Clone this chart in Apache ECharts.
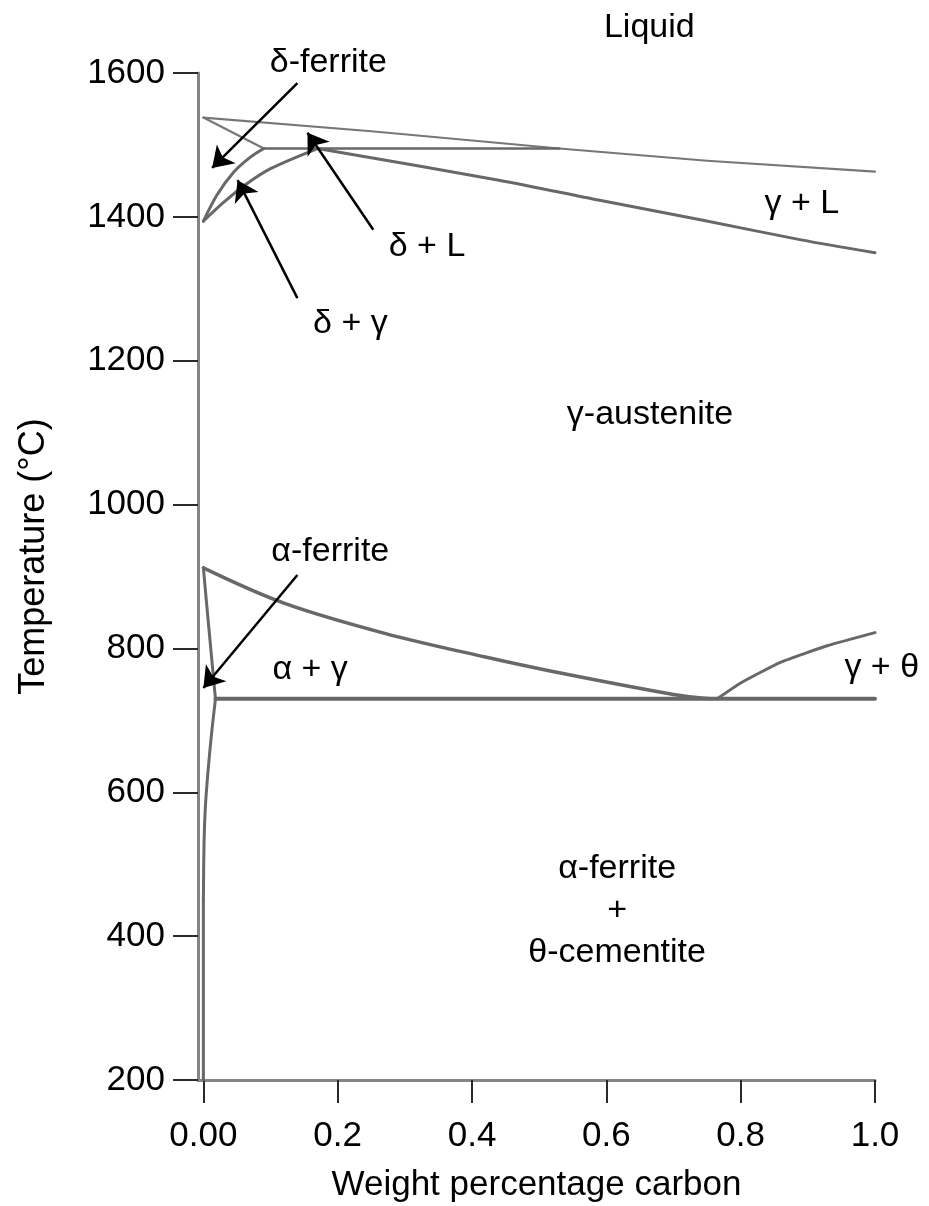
<!DOCTYPE html>
<html>
<head>
<meta charset="utf-8">
<title>Fe–C phase diagram (steel corner)</title>
<script src="https://cdn.jsdelivr.net/npm/echarts@6/dist/echarts.min.js"></script>
<style>
  html, body { margin: 0; padding: 0; background: #ffffff; }
  #chart { width: 929px; height: 1206px; }
</style>
</head>
<body>
<div id="chart"></div>
<script>
// Composition (wt% C) and temperature (°C) pairs for each phase boundary
const liquidus        = [[0, 1538], [0.25, 1519], [0.53, 1495], [0.75, 1478], [1.0, 1463]];
const deltaSolidus    = [[0, 1538], [0.09, 1495]];
const peritecticLine  = [[0.09, 1495], [0.53, 1495]];
const deltaGammaLeft  = [[0, 1394], [0.02, 1430], [0.045, 1462], [0.07, 1483], [0.09, 1495]];
const deltaGammaRight = [[0, 1394], [0.03, 1420], [0.06, 1443], [0.10, 1467], [0.17, 1495]];
const gammaSolidus    = [[0.17, 1495], [0.44, 1451], [0.59, 1423], [0.74, 1396], [0.89, 1368], [1.0, 1350]];
const a3Line          = [[0, 912], [0.12, 863], [0.27, 821], [0.42, 788], [0.52, 768], [0.70, 736], [0.755, 730]];
const acmLine         = [[0.765, 730], [0.80, 752], [0.86, 781], [0.93, 804], [1.0, 822]];
const eutectoidLine   = [[0.018, 730], [1.0, 730]];
const alphaGammaLine  = [[0, 912], [0.008, 830], [0.015, 760], [0.018, 730]];
const alphaSolvus     = [[0.018, 730], [0.012, 680], [0.007, 630], [0.003, 580], [0.001, 530], [0, 450]];
const pureIronLine    = [[0, 450], [0, 200]];

// Pointer arrows: [tail, tip]
const arrows = [
  [[0.14, 1586], [0.013, 1468]],   // δ-ferrite
  [[0.253, 1382], [0.155, 1517]],  // δ + L
  [[0.14, 1287], [0.051, 1451]],   // δ + γ
  [[0.14, 902], [0.0, 745]]        // α-ferrite
];

// Region labels
const regionNames = ['Liquid', 'δ-ferrite', 'δ + L', 'δ + γ', 'γ + L', 'γ-austenite',
                     'α-ferrite', 'α + γ', 'γ + θ', 'α-ferrite\n+\nθ-cementite'];
const regionPos   = [[0.664, 1663], [0.186, 1615], [0.333, 1359], [0.219, 1252], [0.891, 1419],
                     [0.665, 1125], [0.189, 935], [0.159, 770], [1.010, 773], [0.616, 436]];

// Axis ticks
const xTickValues = [0, 0.2, 0.4, 0.6, 0.8, 1.0];
const xTickLabels = ['0.00', '0.2', '0.4', '0.6', '0.8', '1.0'];

const FONT = '"Liberation Sans", Arial, Helvetica, sans-serif';
const LINE_GREY = '#686868';

function boundary(data, width, color, smooth) {
  return {
    type: 'line',
    data: data,
    symbol: 'none',
    smooth: smooth || false,
    silent: true,
    lineStyle: { color: color || LINE_GREY, width: width || 3, cap: 'round', join: 'round' },
    z: 3
  };
}

const chart = echarts.init(document.getElementById('chart'), null, { renderer: 'canvas' });

chart.setOption({
  animation: false,
  backgroundColor: '#ffffff',
  grid: { left: 198, right: 54, top: 73, bottom: 126, containLabel: false, outerBoundsMode: 'none' },
  xAxis: {
    type: 'value',
    min: -0.008,
    max: 1.0,
    name: 'Weight percentage carbon',
    nameLocation: 'middle',
    nameGap: 88,
    nameTextStyle: { fontFamily: FONT, fontSize: 35, color: '#000' },
    axisLine: { show: true, onZero: false, lineStyle: { color: '#858585', width: 3 } },
    axisTick: { show: true, length: 23, inside: false, customValues: xTickValues,
                lineStyle: { color: '#2a2a2a', width: 2 } },
    axisLabel: {
      show: true, margin: 39, fontFamily: FONT, fontSize: 35, color: '#000',
      customValues: xTickValues,
      formatter: function (v) {
        const i = xTickValues.findIndex(t => Math.abs(t - v) < 1e-9);
        return i >= 0 ? xTickLabels[i] : '';
      }
    },
    splitLine: { show: false }
  },
  yAxis: {
    type: 'value',
    min: 200,
    max: 1600,
    interval: 200,
    name: 'Temperature (°C)',
    nameLocation: 'middle',
    nameGap: 146,
    nameRotate: 90,
    nameTextStyle: { fontFamily: FONT, fontSize: 36, color: '#000', padding: [0, 0, 0, 40] },
    axisLine: { show: true, onZero: false, lineStyle: { color: '#858585', width: 3 } },
    axisTick: { show: true, length: 25, inside: false, lineStyle: { color: '#2a2a2a', width: 2 } },
    axisLabel: { show: true, margin: 33, fontFamily: FONT, fontSize: 35, color: '#000',
                 formatter: v => String(v) },
    splitLine: { show: false }
  },
  series: [
    boundary(liquidus, 2.2, '#777777'),
    boundary(deltaSolidus, 2.2, '#777777'),
    boundary(peritecticLine, 2.5),
    boundary(deltaGammaLeft, 3, null, 0.3),
    boundary(deltaGammaRight, 3, null, 0.3),
    boundary(gammaSolidus, 3, null, 0.3),
    boundary(a3Line, 3.5, null, 0.35),
    boundary(acmLine, 3, null, 0.15),
    boundary(eutectoidLine, 4),
    boundary(alphaGammaLine, 3, null, 0.3),
    boundary(alphaSolvus, 3, null, 0.3),
    boundary(pureIronLine, 3),
    {
      type: 'lines',
      coordinateSystem: 'cartesian2d',
      silent: true,
      symbol: ['none', 'arrow'],
      symbolSize: [0, 20],
      lineStyle: { color: '#000', width: 2.5, opacity: 1, curveness: 0 },
      data: arrows.map(a => ({ coords: a })),
      z: 5
    },
    {
      type: 'scatter',
      silent: true,
      clip: false,
      symbolSize: 1,
      itemStyle: { color: 'transparent', opacity: 1 },
      data: regionNames.map((n, i) => ({ name: n, value: regionPos[i] })),
      label: {
        show: true,
        position: 'inside',
        formatter: p => p.name,
        fontFamily: FONT,
        fontSize: 34,
        lineHeight: 42,
        color: '#000',
        opacity: 1,
        align: 'center',
        verticalAlign: 'middle'
      },
      z: 6
    }
  ]
});
</script>
</body>
</html>
